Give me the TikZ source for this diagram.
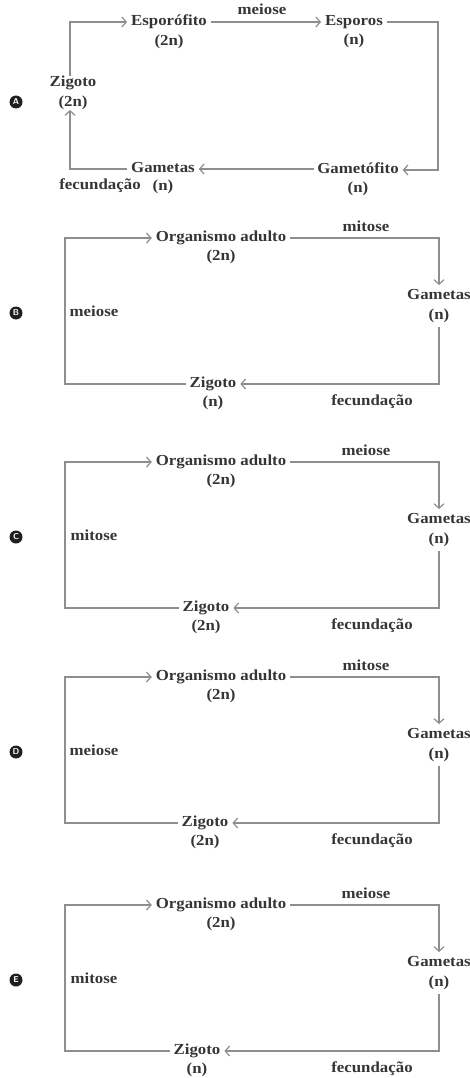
\documentclass[tikz,border=0pt]{standalone}
\usepackage{fontspec}
\setmainfont{Liberation Serif}[FakeStretch=1.1]
\usetikzlibrary{arrows.meta}
\definecolor{txt}{HTML}{353535}
\definecolor{ln}{HTML}{8E8E8E}
\tikzset{
  lbl/.style={font=\fontsize{15.3}{18}\selectfont\bfseries, text=txt, inner sep=3pt, outer sep=1pt, text height=10.5pt, text depth=3.5pt},
  tag/.style={circle, fill=black!88, text=white, inner sep=0pt, minimum size=13pt, font=\sffamily\bfseries\fontsize{8.5}{8.5}\selectfont},
  arr/.style={draw=ln, line width=1.3pt, -{Straight Barb[length=4.5pt,width=10pt,line width=1.2pt]}},
  ln/.style={draw=ln, line width=1.3pt}
}
\newcommand\cyc[7]{%
\begin{scope}[shift={(0,#2)}]
\node[lbl] (#1-o) at (221,0) {Organismo adulto};
\node[lbl] (#1-on) at (221,19) {(2n)};
\node[lbl] (#1-g) at (439,58) {Gametas};
\node[lbl] (#1-gn) at (439,78) {(n)};
\node[lbl] (#1-z) at (#7,146) {Zigoto};
\node[lbl] (#1-zn) at (#7,165) {(#6)};
\node[lbl] (#1-t) at (366,-10) {#4};
\node[lbl] (#1-l) at (94,75) {#5};
\node[lbl] (#1-f) at (372,164) {fecundação};
\node[tag] (#1-tag) at (16,75) {#3};
\coordinate (#1-L) at (65,0);
\draw[arr] (#1-z.west) -| (#1-L) -- (#1-o.west);
\draw[arr] (#1-o.east) -| (#1-g.north);
\draw[arr] (#1-gn.south) |- (#1-z.east);
\end{scope}}
\begin{document}
\begin{tikzpicture}[x=1pt,y=-1pt]
\useasboundingbox (0,0) rectangle (470,1078);
% Panel A
\node[tag] (tA) at (16,102) {A};
\node[lbl] (zA) at (73,83) {Zigoto};
\node[lbl] (znA) at (73,103) {(2n)};
\node[lbl] (spA) at (169,22) {Esporófito};
\node[lbl] (spnA) at (169,42) {(2n)};
\node[lbl] (esA) at (354,22) {Esporos};
\node[lbl] (esnA) at (354,41) {(n)};
\node[lbl] (gfA) at (358,170) {Gametófito};
\node[lbl] (gfnA) at (358,189) {(n)};
\node[lbl] (gmA) at (163,169) {Gametas};
\node[lbl] (gmnA) at (163,187) {(n)};
\node[lbl] (meA) at (262,11) {meiose};
\node[lbl] (feA) at (100,186) {fecundação};
\coordinate (rA) at (438,0);
\draw[arr] ([xshift=-3pt,yshift=-4pt]zA.north) |- (spA.west);
\draw[arr] (spA.east) -- (esA.west);
\draw[arr] (esA.east) -- (esA.east -| rA) |- (gfA.east);
\draw[arr] (gfA.west) -- (gmA.west -| gfA.west) -- (gmA.east);
\draw[arr] (gmA.west) -| ([xshift=-3pt,yshift=4pt]znA.south);
% Panels B-E
\cyc{B}{238}{B}{mitose}{meiose}{n}{213}
\cyc{C}{462}{C}{meiose}{mitose}{2n}{206}
\cyc{D}{677}{D}{mitose}{meiose}{2n}{205}
\cyc{E}{905}{E}{meiose}{mitose}{n}{197}
\end{tikzpicture}
\end{document}
